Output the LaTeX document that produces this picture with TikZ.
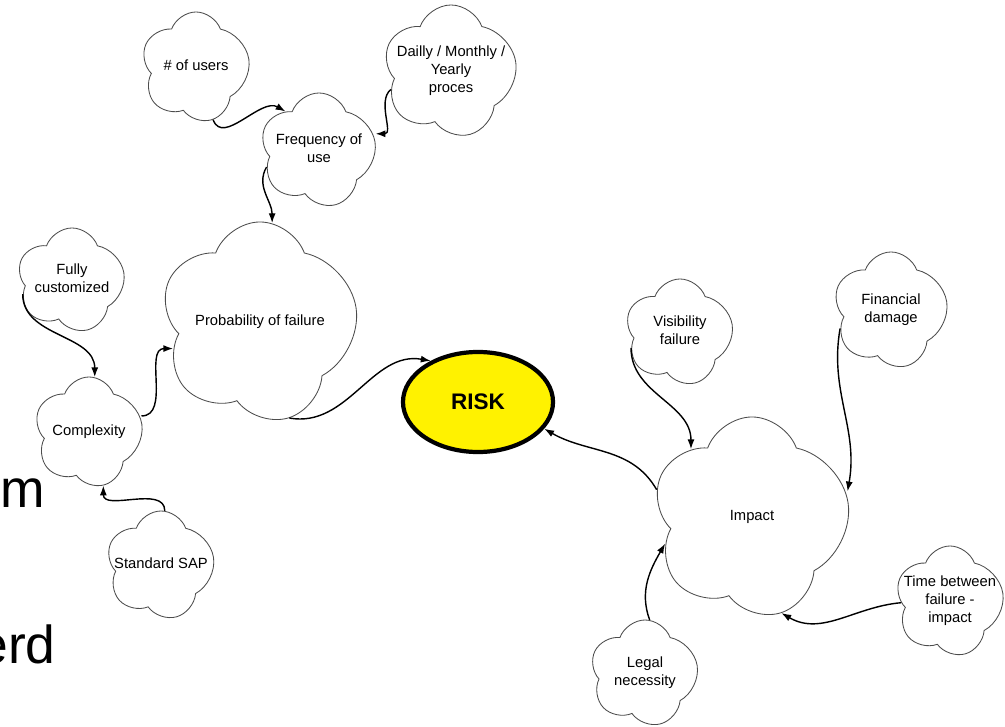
\documentclass[tikz,border=0pt]{standalone}
\usepackage{fontspec}
\setmainfont{Liberation Sans}
\usetikzlibrary{shapes.symbols,shapes.geometric,arrows.meta}
% keep the cloud size independent of its text
\newcommand{\ctext}[1]{\makebox[0pt]{\begin{tabular}{@{}c@{}}#1\end{tabular}}}

\begin{document}
\begin{tikzpicture}[x=0.025cm,y=0.025cm,
  puff/.style={cloud,cloud puffs=5.5,cloud puff arc=140,cloud ignores aspect,draw=black!70,line width=.6pt,fill=white,inner sep=0pt,minimum width=2.75cm,minimum height=2.75cm,font=\fontsize{10.5}{13}\selectfont},
  bigpuff/.style={puff,minimum width=5cm,minimum height=5cm},
  link/.style={line width=1pt,-{Latex[length=7pt,width=5pt]}}]
\useasboundingbox (0,0) rectangle (1005,726);
\clip (0,0) rectangle (1005,726);
\fill[white] (0,0) rectangle (1005,726);

% text of the slide behind
\node[anchor=base east,inner sep=0pt,font=\fontsize{38}{44}\selectfont] (om) at (45,219) {om};
\node[anchor=base east,inner sep=0pt,font=\fontsize{38}{44}\selectfont] (erd) at (56,63) {erd};

% clouds
\node[puff,shape border rotate=20] (users) at (196,659) {\ctext{\# of users}};
\node[puff,minimum width=3.4cm,minimum height=3.3cm,shape border rotate=-15] (daily) at (451,655) {\ctext{Dailly / Monthly /\\Yearly\\proces}};
\node[puff,minimum width=2.95cm,minimum height=2.85cm] (freq) at (319,576) {\ctext{Frequency of\\use}};
\node[bigpuff,shape border rotate=30] (prob) at (260,404) {\ctext{Probability of failure}};
\node[puff,minimum height=2.6cm,shape border rotate=10] (fully) at (72,446) {\ctext{Fully\\customized}};
\node[puff,shape border rotate=-20] (compl) at (89,294) {\ctext{Complexity}};
\node[puff,minimum height=2.7cm,shape border rotate=15] (sap) at (161,161) {\ctext{Standard SAP}};
\node[puff,minimum height=2.65cm,shape border rotate=-10] (visib) at (680,394) {\ctext{Visibility\\failure}};
\node[puff,minimum width=2.9cm,minimum height=2.9cm,shape border rotate=25] (fin) at (891,416) {\ctext{Financial\\damage}};
\node[bigpuff,shape border rotate=-25] (impact) at (752,209) {\ctext{Impact}};
\node[puff,shape border rotate=5] (time) at (950,125) {\ctext{Time between\\failure -\\impact}};
\node[puff,minimum height=2.65cm,shape border rotate=-30] (legal) at (645,53) {\ctext{Legal\\necessity}};

\node[ellipse,draw=black,line width=3pt,fill=yellow,minimum width=3.75cm,minimum height=2.5cm,font=\bfseries\fontsize{16}{19}\selectfont] (risk) at (478,324) {RISK};

% connectors
\draw[link] (users.-72) to[out=-70,in=150] (freq.131);
\draw[link] (daily.197) to[out=220,in=0] (freq.16);
\draw[link] (freq.198) to[out=240,in=90] (prob.83);
\draw[link] (fully.196) to[out=-90,in=90] (compl.84);
\draw[link] (compl.17) to[out=0,in=180] (prob.197);
\draw[link] (sap.86) to[out=90,in=-90] (compl.-75);
\draw[link] (prob.-73) to[out=-10,in=170] (risk.139);
\draw[link] (impact.164) to[out=120,in=-30] (risk.-22);
\draw[link] (visib.198) to[out=-90,in=90] (impact.132);
\draw[link] (fin.200) to[out=-100,in=80] (impact.15);
\draw[link] (time.182) to[out=185,in=-30] (impact.-73);
\draw[link] (legal.85) to[out=110,in=240] (impact.197);
\end{tikzpicture}
\end{document}
